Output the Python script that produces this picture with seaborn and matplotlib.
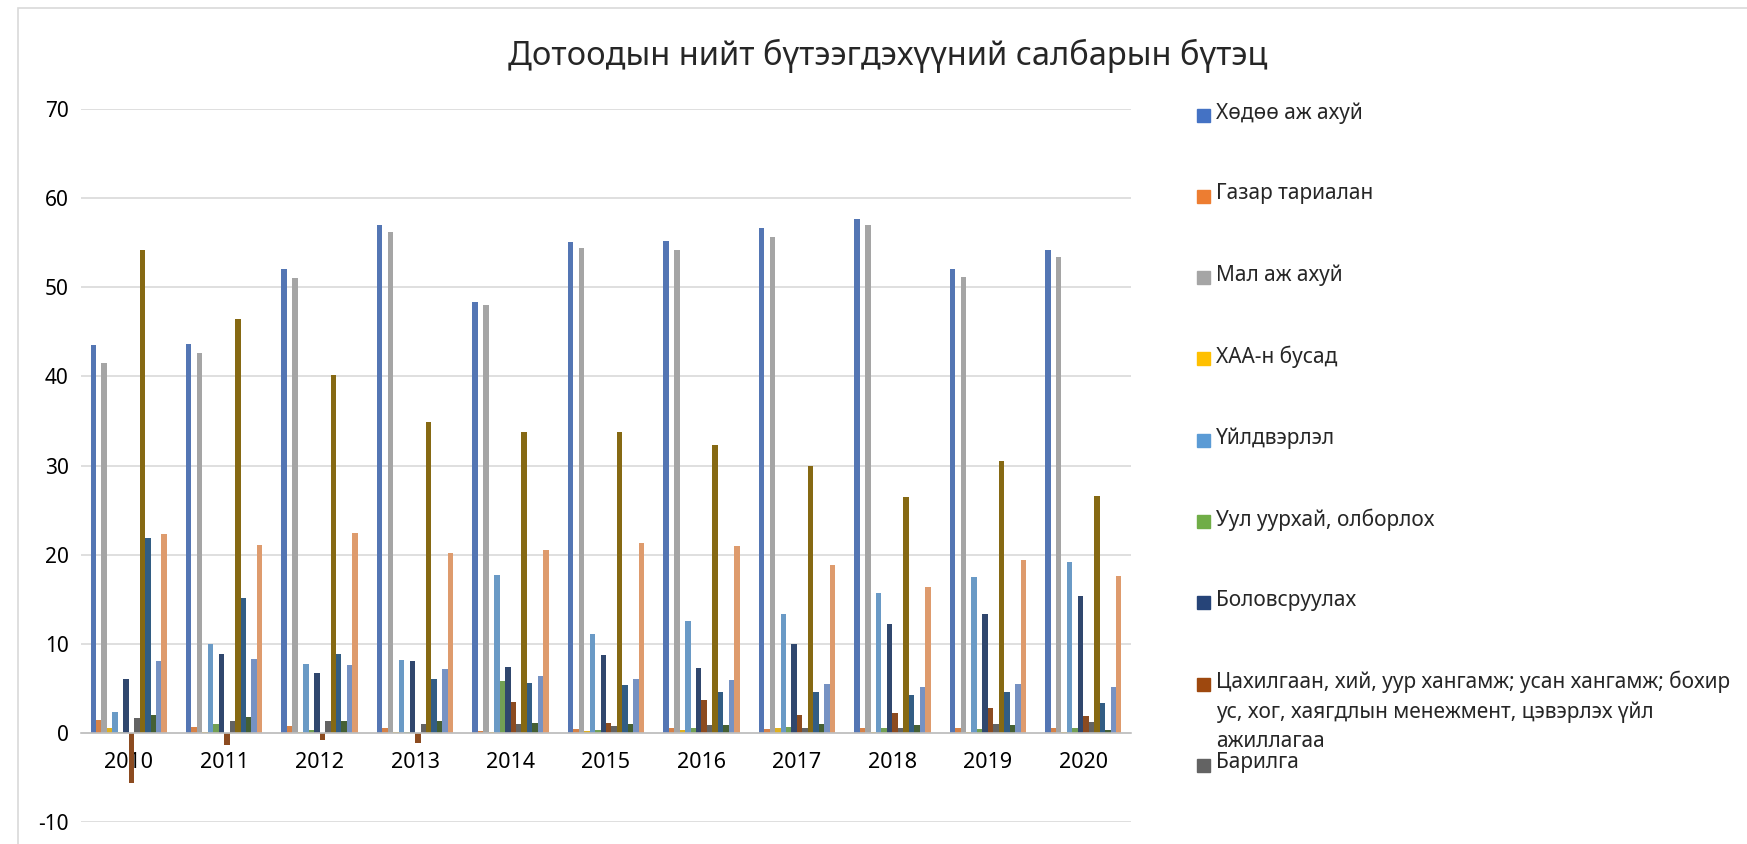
import pandas as pd
import matplotlib.pyplot as plt
import seaborn as sns
from matplotlib.patches import Rectangle

# ---------- DATA ------------------------------------------------------------------
years = ["2010", "2011", "2012", "2013", "2014", "2015", "2016", "2017", "2018", "2019", "2020"]

sectors = [
    "Хөдөө аж ахуй",
    "Газар тариалан",
    "Мал аж ахуй",
    "ХАА-н бусад",
    "Үйлдвэрлэл",
    "Уул уурхай, олборлох",
    "Боловсруулах",
    "Цахилгаан, хий, уур хангамж; усан хангамж; бохир\nус, хог, хаягдлын менежмент, цэвэрлэх үйл\nажиллагаа",
    "Барилга",
    "Үйлчилгээ",
    "Бөөний болон жижиглэн худалдаа",
    "Тээвэр ба агуулах",
    "Мэдээлэл, холбоо",
    "Бусад үйлчилгээ",
]

colors = [
    "#4472C4", "#ED7D31", "#A5A5A5", "#FFC000", "#5B9BD5", "#70AD47", "#264478",
    "#9E480E", "#636363", "#997300", "#255E91", "#43682B", "#698ED0", "#F1975A",
]

khudoo_aj_akhui = [43.5, 43.6, 52.1, 57.0, 48.4, 55.1, 55.2, 56.7, 57.7, 52.0, 54.2]
gazar_tarialan  = [1.5, 0.7, 0.75, 0.55, 0.2, 0.4, 0.55, 0.45, 0.55, 0.55, 0.55]
mal_aj_akhui    = [41.5, 42.6, 51.0, 56.2, 48.0, 54.4, 54.2, 55.6, 57.0, 51.2, 53.4]
khaa_busad      = [0.5, 0.1, 0.1, 0.1, 0.05, 0.2, 0.35, 0.55, 0.1, 0.1, 0.1]
uildverlel      = [2.3, 10.0, 7.7, 8.2, 17.7, 11.05, 12.5, 13.3, 15.7, 17.5, 19.2]
uul_uurkhai     = [0.15, 1.0, 0.35, 0.05, 5.8, 0.3, 0.55, 0.65, 0.55, 0.4, 0.55]
bolovsruulakh   = [6.0, 8.9, 6.7, 8.1, 7.4, 8.7, 7.3, 10.0, 12.2, 13.3, 15.4]
tsakhilgaan     = [-5.6, -1.4, -0.8, -1.1, 3.5, 1.1, 3.7, 2.0, 2.25, 2.8, 1.85]
barilga         = [1.7, 1.3, 1.3, 1.0, 1.0, 0.75, 0.85, 0.55, 0.6, 1.0, 1.2]
uilchilgee      = [54.2, 46.4, 40.1, 34.9, 33.8, 33.8, 32.3, 30.0, 26.5, 30.5, 26.6]
khudaldaa       = [21.9, 15.1, 8.8, 6.0, 5.6, 5.4, 4.6, 4.6, 4.2, 4.6, 3.3]
teever          = [2.0, 1.8, 1.35, 1.35, 1.1, 1.0, 0.85, 1.0, 0.9, 0.85, 0.35]
medeelel        = [8.1, 8.3, 7.6, 7.2, 6.4, 6.0, 5.9, 5.5, 5.1, 5.5, 5.2]
busad           = [22.3, 21.1, 22.4, 20.2, 20.5, 21.3, 21.0, 18.8, 16.4, 19.4, 17.6]

series = [
    khudoo_aj_akhui, gazar_tarialan, mal_aj_akhui, khaa_busad, uildverlel, uul_uurkhai,
    bolovsruulakh, tsakhilgaan, barilga, uilchilgee, khudaldaa, teever, medeelel, busad,
]

rows = []
for name, vals in zip(sectors, series):
    for yr, v in zip(years, vals):
        rows.append({"Он": yr, "Салбар": name, "Хувь": v})
df = pd.DataFrame(rows)

# ---------- PLOT ------------------------------------------------------------------
sns.set_style("white")
plt.rcParams["font.family"] = ["Noto Sans", "DejaVu Sans"]
plt.rcParams["axes.unicode_minus"] = False

fig = plt.figure(figsize=(17.47, 8.44), dpi=100)
ax = fig.add_axes([81 / 1747, 1 - 822 / 844, (1131 - 81) / 1747, (822 - 109) / 844])

sns.barplot(
    data=df, x="Он", y="Хувь", hue="Салбар", order=years, hue_order=sectors,
    palette=dict(zip(sectors, colors)), width=0.8, errorbar=None,
    linewidth=0, legend=False, ax=ax,
)

ax.set_ylim(-10, 70)
ax.set_xlim(-0.5, 10.5)
ax.set_yticks(range(-10, 71, 10))
ax.set_xlabel("")
ax.set_ylabel("")
ax.yaxis.grid(True, color="#D9D9D9", linewidth=1.2)
ax.set_axisbelow(True)
for side in ["left", "right", "top"]:
    ax.spines[side].set_visible(False)
ax.spines["bottom"].set_position(("data", 0))
ax.spines["bottom"].set_color("#BFBFBF")
ax.spines["bottom"].set_linewidth(1.2)
ax.tick_params(axis="x", length=0, pad=14, labelsize=15.5, colors="#000000")
ax.tick_params(axis="y", length=0, pad=9, labelsize=15, colors="#000000")

fig.text(888 / 1747, 1 - 56 / 844, "Дотоодын нийт бүтээгдэхүүний салбарын бүтэц",
         ha="center", va="center", fontsize=23.5)

# chart area border
fig.patches.append(Rectangle((18 / 1747, -0.1), 1.2, 1.1 - 8 / 844, transform=fig.transFigure,
                             fill=False, edgecolor="#D9D9D9", linewidth=1.2))

# legend (only first nine entries fit, as in the original)
for i in range(9):
    yc = 1 - (115 + i * 81.3) / 844
    fig.patches.append(Rectangle((1197 / 1747, yc - 6.5 / 844), 13 / 1747, 13 / 844,
                                 transform=fig.transFigure, color=colors[i]))
    fig.text(1216 / 1747, yc + 13 / 844, sectors[i], ha="left", va="top",
             fontsize=15, linespacing=1.5)

fig.savefig("out.png", dpi=100)
